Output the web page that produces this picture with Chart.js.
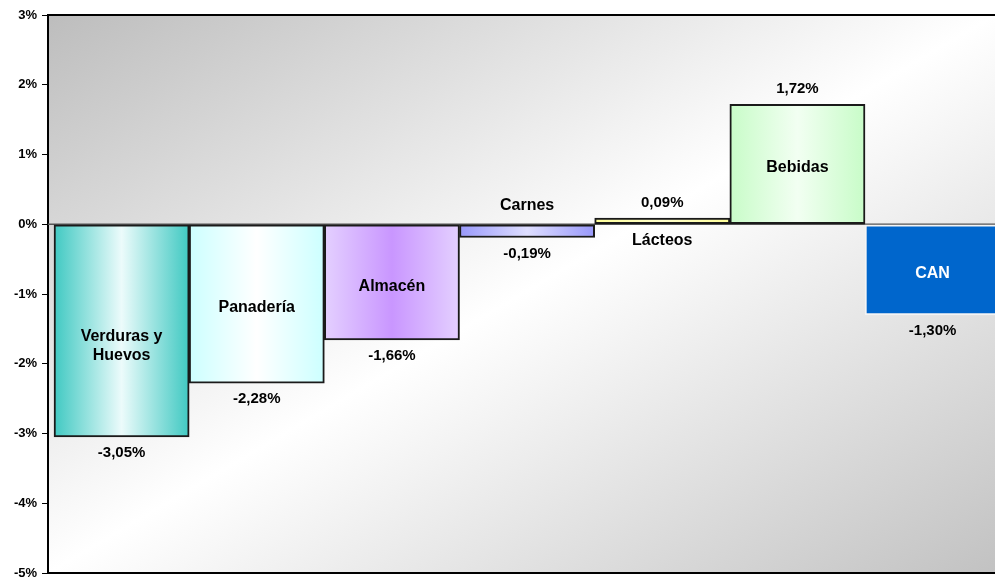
<!DOCTYPE html>
<html>
<head>
<meta charset="utf-8">
<script src="https://cdn.jsdelivr.net/npm/chart.js@4.4.0/dist/chart.umd.min.js"></script>
<style>
  html, body { margin: 0; padding: 0; background: #fff; overflow: hidden; }
  #wrap { width: 995px; height: 577px; }
</style>
</head>
<body>
<div id="wrap"><canvas id="myChart" width="995" height="577"></canvas></div>
<script>
// data
const categories = ['Verduras y\nHuevos', 'Panadería', 'Almacén', 'Carnes', 'Lácteos', 'Bebidas', 'CAN'];
const values = [-3.05, -2.28, -1.66, -0.19, 0.09, 1.72, -1.30];
const yTicks = [3, 2, 1, 0, -1, -2, -3, -4, -5];

// gradient stops per bar: edge, centre, edge
const barStops = [
  ['#40c9c2', '#ecfbfb', '#40c9c2'],
  ['#ccffff', '#ffffff', '#ccffff'],
  ['#e4d0ff', '#c996ff', '#e4d0ff'],
  ['#9898fa', '#dedeff', '#9898fa'],
  ['#ffff99', '#ffffcc', '#ffff99'],
  ['#c8fcc8', '#f2fff2', '#c8fcc8']
];
const canColor = '#0066cc';
const borderColors = ['#1a1a1a', '#1a1a1a', '#1a1a1a', '#1a1a1a', '#1a1a1a', '#1a1a1a', '#f4f4f4'];

const fmt = v => v.toFixed(2).replace('.', ',') + '%';

const barFill = (context) => {
  const chart = context.chart;
  const i = context.dataIndex;
  if (i === 6) return canColor;
  const stops = barStops[i];
  const xs = chart.scales.x;
  if (!chart.chartArea || !xs) return stops[0];
  const w = xs.getPixelForValue(1) - xs.getPixelForValue(0);
  const c = xs.getPixelForValue(i);
  const g = chart.ctx.createLinearGradient(c - w / 2, 0, c + w / 2, 0);
  g.addColorStop(0, stops[0]);
  g.addColorStop(0.5, stops[1]);
  g.addColorStop(1, stops[2]);
  return g;
};

const plotDecor = {
  id: 'plotDecor',
  beforeDraw(chart) {
    const { ctx, chartArea: a } = chart;
    const W = a.right - a.left, H = a.bottom - a.top;
    const cx = a.left + W / 2, cy = a.top + H / 2;
    // diagonal gradient whose middle runs corner to corner (bottom-left to top-right)
    const k = W * H / (H * H + W * W);
    const g = ctx.createLinearGradient(cx - k * H, cy - k * W, cx + k * H, cy + k * W);
    g.addColorStop(0, '#bdbdbd');
    g.addColorStop(0.5, '#ffffff');
    g.addColorStop(1, '#c2c2c2');
    ctx.save();
    ctx.fillStyle = g;
    ctx.fillRect(a.left, a.top, W, H);
    ctx.restore();
  },
  beforeDatasetsDraw(chart) {
    const { ctx, chartArea: a } = chart;
    const y0 = chart.scales.y.getPixelForValue(0);
    ctx.save();
    ctx.strokeStyle = '#555';
    ctx.lineWidth = 1.5;
    ctx.beginPath();
    ctx.moveTo(a.left, y0);
    ctx.lineTo(a.right, y0);
    ctx.stroke();
    ctx.restore();
  },
  afterDatasetsDraw(chart) {
    const { ctx, chartArea: a } = chart;
    const ys = chart.scales.y;
    const y0 = ys.getPixelForValue(0);
    ctx.save();
    // frame top / bottom
    ctx.strokeStyle = '#000';
    ctx.lineWidth = 2;
    ctx.beginPath();
    ctx.moveTo(a.left, a.top); ctx.lineTo(a.right, a.top);
    ctx.moveTo(a.left, a.bottom); ctx.lineTo(a.right, a.bottom);
    ctx.stroke();

    ctx.textAlign = 'center';
    ctx.textBaseline = 'middle';
    const meta = chart.getDatasetMeta(0);
    meta.data.forEach((bar, i) => {
      const v = values[i];
      const top = Math.min(bar.y, bar.base), bottom = Math.max(bar.y, bar.base);
      // value label outside the bar end
      ctx.font = 'bold 15px "Liberation Sans", Arial, sans-serif';
      ctx.fillStyle = '#000';
      if (v < 0) ctx.fillText(fmt(v), bar.x, bottom + 16);
      else ctx.fillText(fmt(v), bar.x, top - 15);
      // category name
      ctx.font = 'bold 16px "Liberation Sans", Arial, sans-serif';
      const lines = categories[i].split('\n');
      let yc;
      if (Math.abs(v) < 0.5) {
        yc = v < 0 ? y0 - 19 : y0 + 16;
      } else {
        yc = (top + bottom) / 2 + (lines.length > 1 ? 15 : 4);
      }
      ctx.fillStyle = i === 6 ? '#fff' : '#000';
      lines.forEach((ln, j) => {
        ctx.fillText(ln, bar.x, yc + (j - (lines.length - 1) / 2) * 19);
      });
    });
    ctx.restore();
  }
};

const ctx = document.getElementById('myChart').getContext('2d');
const myChart = new Chart(ctx, {
  type: 'bar',
  data: {
    datasets: [{
      data: values.map((v, i) => ({ x: i, y: v })),
      backgroundColor: barFill,
      borderColor: borderColors,
      borderWidth: 2,
      borderSkipped: false,
      barPercentage: 1,
      categoryPercentage: 1
    }]
  },
  options: {
    responsive: false,
    animation: false,
    layout: { padding: { top: 15, bottom: 4, left: 0, right: 0 } },
    plugins: { legend: { display: false }, tooltip: { enabled: false } },
    scales: {
      x: {
        type: 'linear',
        display: false,
        offset: false,
        min: -0.5445,
        max: 6.4617
      },
      y: {
        min: -5,
        max: 3,
        afterBuildTicks: (scale) => { scale.ticks = yTicks.map(v => ({ value: v })); },
        afterFit: (scale) => { scale.width = 48; scale.paddingTop = 0; scale.paddingBottom = 0; },
        border: { color: '#000', width: 2 },
        grid: { drawOnChartArea: false, tickLength: 6, color: '#000', lineWidth: 1 },
        ticks: {
          padding: 5,
          color: '#000',
          font: { family: '"Liberation Sans", Arial, sans-serif', size: 13, weight: 'bold' },
          callback: (v) => v + '%'
        }
      }
    }
  },
  plugins: [plotDecor]
});
</script>
</body>
</html>
